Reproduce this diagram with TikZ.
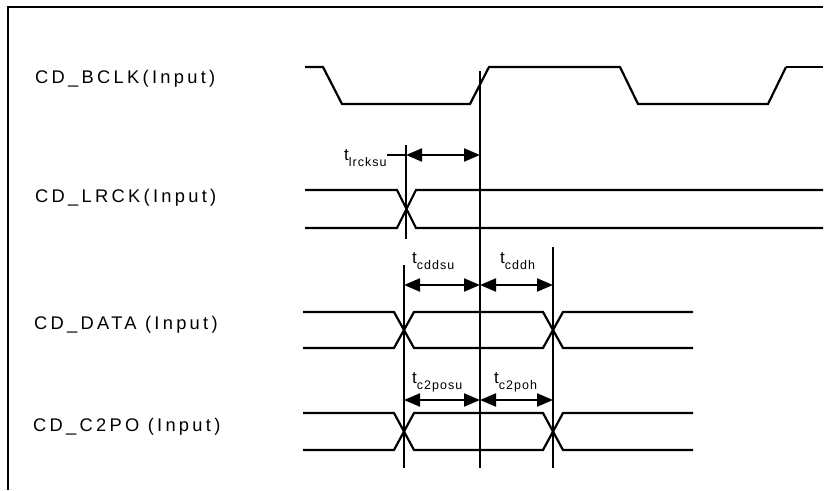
\documentclass[tikz,border=0pt]{standalone}
\usepackage{fontspec}
\setmainfont{Liberation Sans}
\usetikzlibrary{arrows.meta}
\newcommand\tsubl[1]{{\fontsize{17}{17}\selectfont t}\raisebox{-6pt}{\fontsize{12.5}{13}\selectfont\addfontfeatures{LetterSpace=8}#1}}
\begin{document}
\begin{tikzpicture}[x=1pt,y=-1pt,
  sig/.style={line width=2.2pt, line join=miter},
  vline/.style={line width=2pt},
  dim/.style={line width=2.2pt, {Triangle[length=16pt,width=13pt]}-{Triangle[length=16pt,width=13pt]}},
  lead/.style={line width=2.2pt},
  lab/.style={anchor=base west, inner sep=0pt, font=\fontsize{18.3}{20}\selectfont\addfontfeatures{LetterSpace=18}},
  tlab/.style={anchor=base west, inner sep=0pt}]
\useasboundingbox (0,0) rectangle (830,490);
% frame
\draw[line width=1.5pt] (8,490) -- (8,7) -- (823,7);
% left labels
\node[lab] (lbclk) at (35,83.5) {CD\_BCLK(Input)};
\node[lab] (llrck) at (35,202.5) {CD\_LRCK(Input)};
\node[lab] (ldata) at (34,329.5) {CD\_DATA (Input)};
\node[lab] (lc2po) at (33,431) {CD\_C2PO (Input)};
% BCLK
\draw[sig] (305,67) -- (323,67) -- (342,104) -- (470,104) -- (489,67) -- (620,67) -- (638,104) -- (768,104) -- (786,67);
\draw[line width=1.2pt] (786,67) -- (823,67);
% LRCK
\draw[sig] (305,190) -- (397,190) -- (416,228) -- (823,228);
\draw[sig] (305,228) -- (397,228) -- (416,190) -- (823,190);
\draw[line width=2.8pt] (526,190) -- (546,190) (526,228) -- (546,228);
% DATA
\draw[sig] (303,312) -- (394,312) -- (414,348) -- (543,348) -- (563,312) -- (693,312);
\draw[sig] (303,348) -- (394,348) -- (414,312) -- (543,312) -- (563,348) -- (693,348);
% C2PO
\draw[sig] (303,413) -- (394,413) -- (414,450) -- (543,450) -- (563,413) -- (693,413);
\draw[sig] (303,450) -- (394,450) -- (414,413) -- (543,413) -- (563,450) -- (693,450);
% vertical reference lines
\coordinate (m1) at (480,71);   \coordinate (m2) at (480,468);
\coordinate (l1) at (406,145);  \coordinate (l2) at (406,239);
\coordinate (d1) at (404,265);  \coordinate (d2) at (404,468);
\coordinate (h1) at (553,247);  \coordinate (h2) at (553,468);
\draw[vline] (m1) -- (m2);
\draw[vline] (l1) -- (l2);
\draw[vline] (d1) -- (d2);
\draw[vline] (h1) -- (h2);
% lrcksu
\coordinate (a0) at (387,155);
\coordinate (a1) at (406,155);
\coordinate (a2) at (480,155);
\draw[lead] (a0) -- (a1);
\draw[dim] (a1) -- (a2);
\node[tlab] (tlrck) at (344,160) {\tsubl{lrcksu}};
% data
\coordinate (b1) at (404,285);
\coordinate (b2) at (480,285);
\coordinate (b3) at (553,285);
\draw[dim] (b1) -- (b2);
\draw[dim] (b2) -- (b3);
\node[tlab] (tcddsu) at (412,263) {\tsubl{cddsu}};
\node[tlab] (tcddh) at (500,263) {\tsubl{cddh}};
% c2po
\coordinate (c1) at (404,400);
\coordinate (c2) at (480,400);
\coordinate (c3) at (553,400);
\draw[dim] (c1) -- (c2);
\draw[dim] (c2) -- (c3);
\node[tlab] (tc2posu) at (412,383) {\tsubl{c2posu}};
\node[tlab] (tc2poh) at (494,383) {\tsubl{c2poh}};
\end{tikzpicture}
\end{document}
